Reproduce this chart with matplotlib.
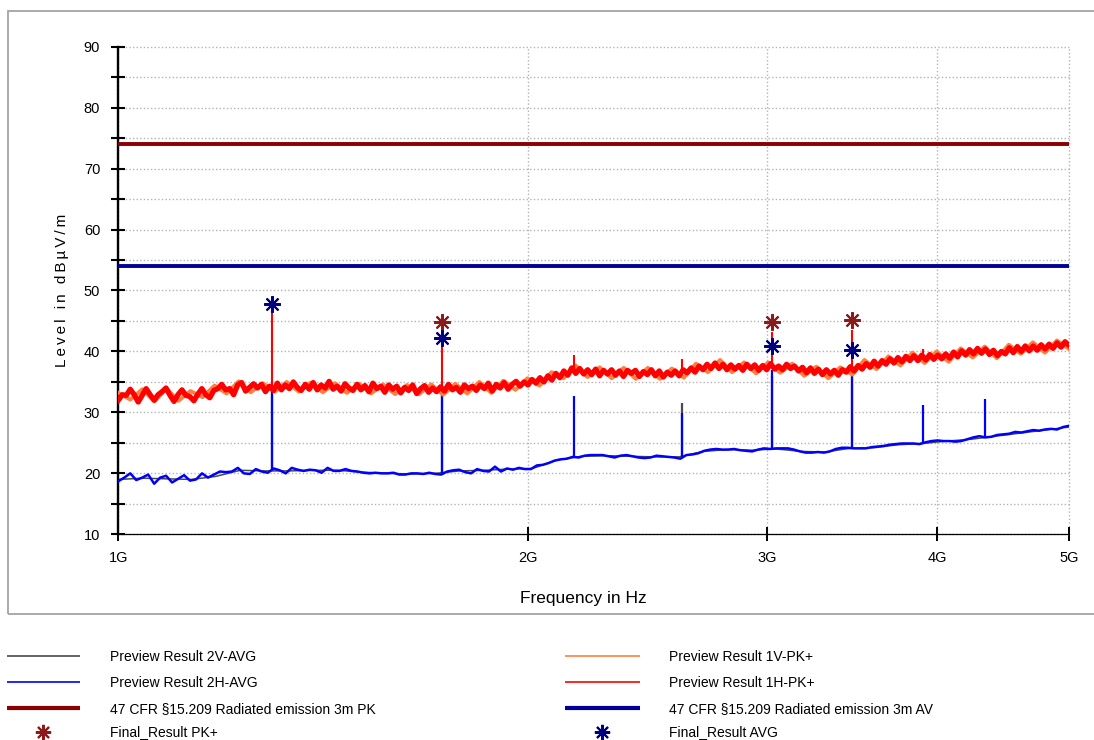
import numpy as np
import matplotlib
matplotlib.use("Agg")
import matplotlib.pyplot as plt
from matplotlib.lines import Line2D
from matplotlib.patches import Rectangle
from matplotlib.ticker import FixedLocator, NullLocator, FuncFormatter, FixedFormatter

plt.rcParams["font.family"] = ["Liberation Sans", "DejaVu Sans"]

# ---------------- data ----------------
F_START, F_STOP = 1e9, 5e9

# Preview 1H-PK+ sweep (dBuV/m), log-spaced points from 1 GHz to 5 GHz
pk_1h_db = [
    32.0, 32.9, 32.8, 33.8, 32.9, 31.7, 32.8, 33.9, 32.9, 32.0,
    32.9, 33.4, 34.0, 32.8, 31.8, 32.9, 33.7, 32.8, 32.6, 31.9,
    33.0, 33.9, 32.9, 32.4, 33.6, 33.9, 34.6, 33.7, 33.9, 32.9,
    34.5, 34.9, 33.5, 34.1, 34.7, 34.0, 34.6, 33.4, 34.3, 33.6,
    34.8, 33.7, 34.5, 33.9, 35.0, 34.1, 33.6, 34.6, 33.8, 34.9,
    33.7, 34.5, 34.0, 35.1, 33.8, 34.3, 33.5, 34.7, 34.0, 33.6,
    34.6, 33.7, 34.4, 33.4, 34.8, 33.9, 34.3, 33.3, 34.5, 33.8,
    34.3, 33.2, 34.1, 33.6, 34.5, 33.1, 33.9, 34.4, 33.3, 34.0,
    33.4, 34.2, 33.5, 34.6, 33.7, 34.1, 33.3, 34.5, 33.9, 34.3,
    33.6, 34.5, 33.9, 34.8, 33.5, 34.6, 34.0, 34.9, 33.8, 34.6,
    35.1, 34.3, 35.0, 34.5, 35.4, 34.8, 35.7, 35.0, 36.0, 35.3,
    36.4, 35.7, 36.8, 36.1, 37.3, 36.4, 37.2, 36.3, 37.0, 36.2,
    37.1, 36.0, 36.9, 36.3, 37.0, 36.1, 36.8, 35.9, 36.9, 36.4,
    36.9, 35.9, 36.7, 36.2, 37.0, 36.0, 36.8, 35.8, 36.6, 36.1,
    36.8, 36.0, 37.0, 36.5, 37.3, 36.6, 37.6, 37.0, 37.9, 37.2,
    38.1, 37.2, 37.9, 37.0, 37.8, 37.1, 37.7, 36.9, 37.9, 37.2,
    37.8, 36.9, 37.7, 37.0, 38.0, 37.1, 37.6, 37.0, 37.9, 37.2,
    37.6, 36.8, 37.4, 36.5, 37.3, 36.4, 37.1, 36.2, 37.0, 36.3,
    36.9, 36.1, 37.0, 36.6, 37.5, 36.8, 37.7, 37.1, 38.0, 37.4,
    38.4, 37.6, 38.5, 37.9, 38.8, 38.1, 39.0, 38.3, 39.2, 38.5,
    39.3, 38.5, 39.4, 38.6, 39.5, 38.7, 39.4, 38.8, 39.6, 38.9,
    39.9, 39.1, 40.1, 39.4, 40.3, 39.6, 40.5, 39.7, 40.4, 39.5,
    40.2, 39.3, 40.0, 39.6, 40.6, 39.8, 40.8, 40.0, 40.9, 40.1,
    40.9, 40.2, 41.1, 40.4, 41.2, 40.5, 41.4, 40.7, 41.6, 41.0,
]

# Preview 1V-PK+ sweep
pk_1v_db = [
    33.2, 32.1, 33.8, 31.8, 33.9, 31.9, 33.5, 32.5, 34.4, 33.1,
    35.1, 33.3, 34.8, 33.4, 35.0, 33.4, 34.9, 33.3, 34.8, 33.2,
    34.7, 33.1, 34.6, 33.0, 34.5, 33.0, 34.6, 32.9, 34.7, 33.1,
    35.0, 33.2, 35.2, 33.7, 35.6, 34.4, 36.6, 35.6, 37.7, 35.8,
    37.4, 35.6, 37.3, 35.5, 37.3, 35.5, 37.2, 35.7, 38.0, 36.6,
    38.6, 36.6, 38.2, 36.4, 38.2, 36.5, 38.0, 36.0, 37.5, 35.6,
    37.4, 36.2, 38.6, 37.1, 39.2, 37.7, 39.8, 38.1, 40.0, 38.3,
    40.5, 39.0, 40.8, 38.9, 41.1, 39.6, 41.5, 39.8, 41.8, 40.4,
]

# Preview 2H-AVG sweep
avg_2h_db = [
    18.7, 19.3, 20.0, 18.9, 19.3, 19.8, 18.3, 19.3, 19.6, 18.5,
    19.1, 19.7, 18.8, 19.0, 20.0, 19.3, 19.8, 20.3, 20.2, 20.3,
    20.9, 20.0, 19.9, 20.7, 20.3, 20.1, 20.8, 20.5, 20.0, 20.9,
    20.6, 20.4, 20.6, 20.5, 20.1, 20.9, 20.4, 20.4, 20.7, 20.4,
    20.3, 20.1, 20.0, 20.1, 20.0, 20.0, 20.1, 19.8, 19.8, 20.0,
    20.0, 19.9, 20.1, 19.9, 19.8, 20.3, 20.5, 20.6, 20.2, 20.0,
    20.7, 20.4, 20.3, 21.1, 20.3, 20.8, 20.6, 20.9, 20.7, 20.7,
    21.3, 21.4, 21.7, 22.1, 22.3, 22.4, 22.7, 22.6, 22.9, 23.0,
    23.0, 23.0, 22.8, 22.6, 22.9, 23.0, 22.8, 22.6, 22.5, 22.6,
    22.9, 22.8, 22.7, 22.6, 22.4, 23.0, 23.1, 23.3, 23.7, 23.9,
    24.0, 23.9, 23.9, 24.0, 23.8, 23.7, 23.6, 23.9, 24.1, 24.0,
    24.1, 24.1, 24.1, 23.9, 23.6, 23.4, 23.4, 23.5, 23.4, 23.6,
    24.0, 24.2, 24.2, 24.1, 24.1, 24.1, 24.3, 24.4, 24.5, 24.7,
    24.8, 24.9, 24.9, 24.9, 24.8, 25.1, 25.3, 25.4, 25.3, 25.3,
    25.2, 25.3, 25.6, 25.9, 26.1, 25.9, 26.0, 26.3, 26.4, 26.5,
    26.8, 26.7, 26.9, 27.1, 27.0, 27.2, 27.3, 27.2, 27.6, 27.8,
]

# Preview 2V-AVG sweep
avg_2v_db = [
    19.0, 19.2, 19.1, 19.0, 19.5, 20.5, 20.4, 20.4, 20.5, 20.5,
    20.2, 20.0, 19.9, 20.0, 20.4, 20.5, 20.7, 20.8, 22.2, 22.8,
    22.9, 22.8, 22.7, 22.7, 23.6, 23.9, 23.8, 24.0, 23.6, 23.5,
    24.1, 24.2, 24.7, 24.9, 25.3, 25.6, 26.1, 26.6, 27.1, 27.6,
]

# Narrow emissions in the sweeps: frequency (GHz), floor and top (dBuV/m)
pk_1h_spike_ghz = [1.297, 1.731, 2.164, 2.598, 3.026, 3.463, 3.904]
pk_1h_spike_floor = [34.2, 33.8, 36.5, 36.4, 37.3, 37.3, 38.9]
pk_1h_spike_top = [47.6, 43.0, 39.4, 38.8, 43.2, 43.5, 40.4]

avg_2h_spike_ghz = [1.297, 1.731, 2.164, 2.598, 3.026, 3.463, 3.904, 4.336]
avg_2h_spike_floor = [20.5, 19.9, 22.7, 22.5, 24.0, 24.2, 24.9, 26.0]
avg_2h_spike_top = [34.0, 34.0, 32.7, 29.9, 37.0, 37.5, 31.2, 32.2]

avg_2v_spike_ghz = [1.297, 1.731, 2.598, 3.026, 3.463]
avg_2v_spike_floor = [20.4, 19.9, 22.5, 24.0, 24.2]
avg_2v_spike_top = [33.0, 33.0, 31.5, 36.0, 36.0]

# Limits (47 CFR 15.209, 3 m)
limit_ghz = [1.0, 5.0]
limit_pk_db = [74.0, 74.0]
limit_av_db = [54.0, 54.0]

# Final measurements
final_pk_ghz = [1.731, 3.026, 3.463]
final_pk_db = [44.9, 44.9, 45.2]
final_avg_ghz = [1.297, 1.731, 3.026, 3.463]
final_avg_db = [47.8, 42.2, 40.9, 40.2]

xtick_ghz = [1, 2, 3, 4, 5]
xtick_labels = ["1G", "2G", "3G", "4G", "5G"]
ytick_db = list(range(10, 95, 5))

# ---------------- colours ----------------
C_2V = "#4a4a4a"
C_2H = "#0000ff"
C_1V = "#ff7f3f"
C_1H = "#ff0000"
C_LIM_PK = "#8b0000"
C_LIM_AV = "#000099"
C_MK_PK = "#8b1a1a"
C_MK_AV = "#000080"

W, H = 1094, 740
fig = plt.figure(figsize=(W / 100, H / 100), dpi=100)
ax = fig.add_axes([118.3 / W, 1 - 534.3 / H, (1069 - 118.3) / W, (534.3 - 46.7) / H])


def sweep_hz(values):
    return np.geomspace(F_START, F_STOP, len(values))


G = 1e9
ax.plot(sweep_hz(avg_2v_db), avg_2v_db, color=C_2V, lw=1.1, zorder=2)
ax.vlines(np.array(avg_2v_spike_ghz) * G, avg_2v_spike_floor, avg_2v_spike_top,
          colors=C_2V, lw=1.6, zorder=2)
ax.plot(sweep_hz(avg_2h_db), avg_2h_db, color=C_2H, lw=1.8, zorder=3)
ax.vlines(np.array(avg_2h_spike_ghz) * G, avg_2h_spike_floor, avg_2h_spike_top,
          colors=C_2H, lw=1.6, zorder=3)
ax.plot(sweep_hz(pk_1v_db), pk_1v_db, color=C_1V, lw=2.8, zorder=4)
ax.plot(sweep_hz(pk_1h_db), pk_1h_db, color=C_1H, lw=3.8, zorder=5)
ax.vlines(np.array(pk_1h_spike_ghz) * G, pk_1h_spike_floor, pk_1h_spike_top,
          colors=C_1H, lw=1.5, zorder=5)

ax.plot(np.array(limit_ghz) * G, limit_pk_db, color=C_LIM_PK, lw=2.8, zorder=6,
        solid_capstyle="butt")
ax.plot(np.array(limit_ghz) * G, limit_av_db, color=C_LIM_AV, lw=2.8, zorder=6,
        solid_capstyle="butt")

asterisk = (8, 2, 0)
ax.plot(np.array(final_pk_ghz) * G, final_pk_db, ls="none", marker=asterisk,
        ms=12, mew=1.5, color=C_MK_PK, zorder=7)
ax.plot(np.array(final_avg_ghz) * G, final_avg_db, ls="none", marker=asterisk,
        ms=12, mew=1.5, color=C_MK_AV, zorder=8)

# ---------------- axes ----------------
ax.set_xscale("log")
ax.set_xlim(F_START, F_STOP)
ax.set_ylim(10, 90)
ax.xaxis.set_major_locator(FixedLocator([g * G for g in xtick_ghz]))
ax.xaxis.set_major_formatter(FixedFormatter(xtick_labels))
ax.xaxis.set_minor_locator(NullLocator())
ax.yaxis.set_major_locator(FixedLocator(ytick_db))
ax.yaxis.set_major_formatter(FuncFormatter(lambda v, p: f"{int(v)}" if v % 10 == 0 else ""))

for s in ("top", "right"):
    ax.spines[s].set_visible(False)
ax.spines["left"].set_linewidth(1.7)
ax.spines["bottom"].set_linewidth(0.9)
ax.tick_params(axis="y", direction="inout", length=10, width=1.5, pad=8,
               labelsize=10.5, colors="black")
ax.tick_params(axis="x", direction="inout", length=10, width=1.4, pad=7,
               labelsize=10.5, colors="black")
ax.grid(True, which="major", color="#b4b4b4", lw=1.0, ls=(0, (1, 1.6)), zorder=0)
ax.set_axisbelow(True)
for gl in ax.get_xgridlines() + ax.get_ygridlines():
    gl.set_clip_on(False)

fig.text(583 / W, 1 - 598 / H, "Frequency in Hz", fontsize=12.5,
         ha="center", va="center")
fig.text(62 / W, 1 - 290.5 / H, "\u2009".join("Level in dBµV/m"), fontsize=11,
         rotation=90, ha="center", va="center")

# outer frame
fig.patches.append(Rectangle((8 / W, 1 - 614 / H), 1.2, (614 - 11) / H,
                             transform=fig.transFigure, fill=False,
                             ec="#a4a4a4", lw=1.3))

# ---------------- legend ----------------
def legend_line(x0, x1, y, color, lw):
    fig.add_artist(Line2D([x0 / W, x1 / W], [1 - y / H, 1 - y / H],
                          transform=fig.transFigure, color=color, lw=lw,
                          solid_capstyle="butt"))


def legend_marker(x, y, color):
    fig.add_artist(Line2D([x / W], [1 - y / H], transform=fig.transFigure,
                          ls="none", marker=asterisk, ms=11, mew=1.5, color=color))


def legend_text(x, y, s):
    fig.text(x / W, 1 - y / H, s, fontsize=10, ha="left", va="baseline")


rows = [656, 682, 708, 732]
baseline_shift = 5
legend_line(7, 80, rows[0], C_2V, 1.2)
legend_text(110, rows[0] + baseline_shift, "Preview Result 2V-AVG")
legend_line(7, 80, rows[1], C_2H, 1.2)
legend_text(110, rows[1] + baseline_shift, "Preview Result 2H-AVG")
legend_line(7, 80, rows[2], C_LIM_PK, 3.0)
legend_text(110, rows[2] + baseline_shift, "47 CFR §15.209 Radiated emission 3m PK")
legend_marker(43, rows[3], C_MK_PK)
legend_text(110, rows[3] + 4, "Final_Result PK+")

legend_line(565, 640, rows[0], C_1V, 1.2)
legend_text(669, rows[0] + baseline_shift, "Preview Result 1V-PK+")
legend_line(565, 640, rows[1], C_1H, 1.2)
legend_text(669, rows[1] + baseline_shift, "Preview Result 1H-PK+")
legend_line(565, 640, rows[2], C_LIM_AV, 3.0)
legend_text(669, rows[2] + baseline_shift, "47 CFR §15.209 Radiated emission 3m AV")
legend_marker(602, rows[3], C_MK_AV)
legend_text(669, rows[3] + 4, "Final_Result AVG")

fig.savefig("out.png", dpi=100)
